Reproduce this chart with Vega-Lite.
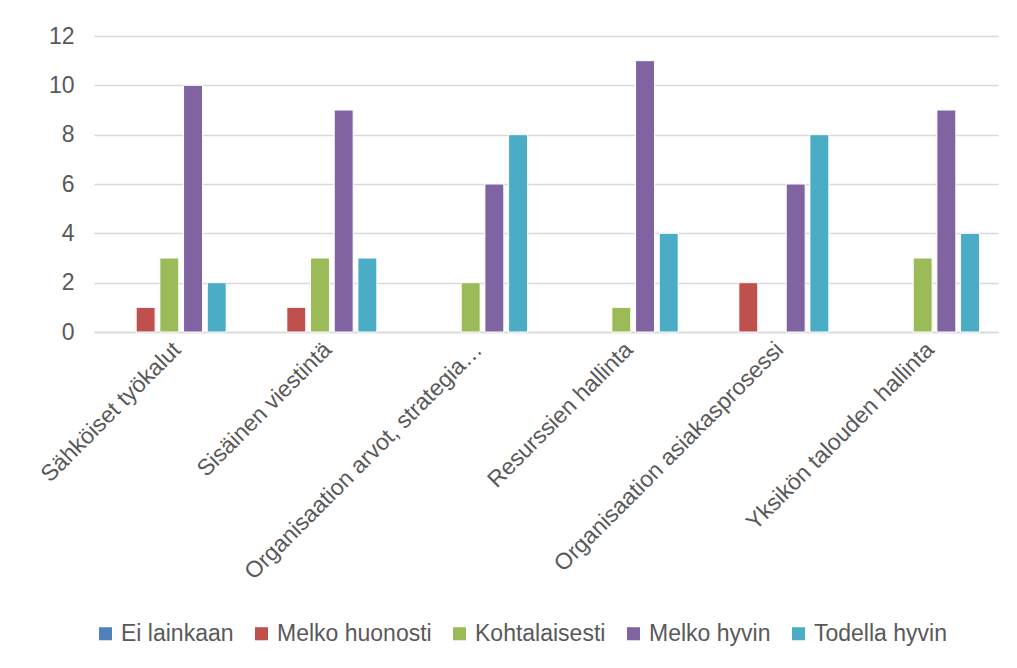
{
  "$schema": "https://vega.github.io/schema/vega-lite/v6.json",
  "width": 904,
  "height": 296,
  "autosize": {"type": "none"},
  "padding": {"left": 94, "top": 36, "right": 19, "bottom": 336},
  "background": "white",
  "data": {
    "values": [
      {"cat": "Sähköiset työkalut", "s": "Ei lainkaan", "v": 0},
      {"cat": "Sähköiset työkalut", "s": "Melko huonosti", "v": 1},
      {"cat": "Sähköiset työkalut", "s": "Kohtalaisesti", "v": 3},
      {"cat": "Sähköiset työkalut", "s": "Melko hyvin", "v": 10},
      {"cat": "Sähköiset työkalut", "s": "Todella hyvin", "v": 2},
      {"cat": "Sisäinen viestintä", "s": "Ei lainkaan", "v": 0},
      {"cat": "Sisäinen viestintä", "s": "Melko huonosti", "v": 1},
      {"cat": "Sisäinen viestintä", "s": "Kohtalaisesti", "v": 3},
      {"cat": "Sisäinen viestintä", "s": "Melko hyvin", "v": 9},
      {"cat": "Sisäinen viestintä", "s": "Todella hyvin", "v": 3},
      {"cat": "Organisaation arvot, strategia…", "s": "Ei lainkaan", "v": 0},
      {"cat": "Organisaation arvot, strategia…", "s": "Melko huonosti", "v": 0},
      {"cat": "Organisaation arvot, strategia…", "s": "Kohtalaisesti", "v": 2},
      {"cat": "Organisaation arvot, strategia…", "s": "Melko hyvin", "v": 6},
      {"cat": "Organisaation arvot, strategia…", "s": "Todella hyvin", "v": 8},
      {"cat": "Resurssien hallinta", "s": "Ei lainkaan", "v": 0},
      {"cat": "Resurssien hallinta", "s": "Melko huonosti", "v": 0},
      {"cat": "Resurssien hallinta", "s": "Kohtalaisesti", "v": 1},
      {"cat": "Resurssien hallinta", "s": "Melko hyvin", "v": 11},
      {"cat": "Resurssien hallinta", "s": "Todella hyvin", "v": 4},
      {"cat": "Organisaation asiakasprosessi", "s": "Ei lainkaan", "v": 0},
      {"cat": "Organisaation asiakasprosessi", "s": "Melko huonosti", "v": 2},
      {"cat": "Organisaation asiakasprosessi", "s": "Kohtalaisesti", "v": 0},
      {"cat": "Organisaation asiakasprosessi", "s": "Melko hyvin", "v": 6},
      {"cat": "Organisaation asiakasprosessi", "s": "Todella hyvin", "v": 8},
      {"cat": "Yksikön talouden hallinta", "s": "Ei lainkaan", "v": 0},
      {"cat": "Yksikön talouden hallinta", "s": "Melko huonosti", "v": 0},
      {"cat": "Yksikön talouden hallinta", "s": "Kohtalaisesti", "v": 3},
      {"cat": "Yksikön talouden hallinta", "s": "Melko hyvin", "v": 9},
      {"cat": "Yksikön talouden hallinta", "s": "Todella hyvin", "v": 4}
    ]
  },
  "mark": {"type": "bar", "stroke": "white", "strokeWidth": 1},
  "encoding": {
    "x": {
      "field": "cat",
      "type": "nominal",
      "sort": null,
      "scale": {"paddingInner": 0, "paddingOuter": 0},
      "axis": {
        "title": null,
        "labelAngle": -45,
        "labelFontSize": 23,
        "labelColor": "#595959",
        "labelFont": "Liberation Sans",
        "labelLimit": 500,
        "labelPadding": 6,
        "ticks": false,
        "domainColor": "#d9d9d9",
        "domainWidth": 1.5,
        "grid": false
      }
    },
    "xOffset": {
      "field": "s",
      "type": "nominal",
      "sort": ["Ei lainkaan", "Melko huonosti", "Kohtalaisesti", "Melko hyvin", "Todella hyvin"],
      "scale": {"paddingInner": 0.2, "paddingOuter": 0.78}
    },
    "y": {
      "field": "v",
      "type": "quantitative",
      "scale": {"domain": [0, 12], "nice": false},
      "axis": {
        "title": null,
        "values": [0, 2, 4, 6, 8, 10, 12],
        "domain": false,
        "ticks": false,
        "labelFontSize": 23,
        "labelColor": "#595959",
        "labelFont": "Liberation Sans",
        "labelPadding": 20,
        "gridColor": "#d9d9d9",
        "gridWidth": 1.5
      }
    },
    "strokeOpacity": {
      "condition": {"test": "datum.v == 0", "value": 0},
      "value": 1
    },
    "color": {
      "field": "s",
      "type": "nominal",
      "sort": ["Ei lainkaan", "Melko huonosti", "Kohtalaisesti", "Melko hyvin", "Todella hyvin"],
      "scale": {
        "domain": ["Ei lainkaan", "Melko huonosti", "Kohtalaisesti", "Melko hyvin", "Todella hyvin"],
        "range": ["#4F81BD", "#C0504D", "#9BBB59", "#8064A2", "#4BACC6"]
      },
      "legend": {
        "title": null,
        "orient": "bottom",
        "direction": "horizontal",
        "symbolType": "square",
        "symbolSize": 170,
        "symbolStrokeWidth": 0,
        "labelFontSize": 23,
        "labelColor": "#595959",
        "labelFont": "Liberation Sans",
        "labelOffset": 4,
        "columnPadding": 16,
        "offset": 38
      }
    }
  },
  "config": {
    "view": {"stroke": null}
  }
}
